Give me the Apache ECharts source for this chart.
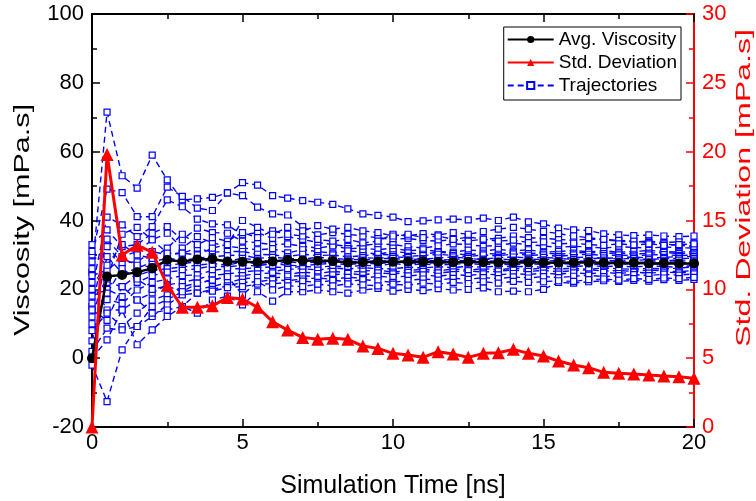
<!DOCTYPE html>
<html><head><meta charset="utf-8">
<script src="https://cdn.jsdelivr.net/npm/echarts@6/dist/echarts.min.js"></script>
<style>html,body{margin:0;padding:0;background:#fff;overflow:hidden}#c{width:756px;height:501px}</style>
</head><body><div id="c"></div>
<script>
// Simulation time [ns]
const times = [0,0.5,1,1.5,2,2.5,3,3.5,4,4.5,5,5.5,6,6.5,7,7.5,8,8.5,9,9.5,10,10.5,11,11.5,12,12.5,13,13.5,14,14.5,15,15.5,16,16.5,17,17.5,18,18.5,19,19.5,20];
// Average viscosity [mPa.s]
const avgViscosity = [0,23.7,24.2,25.0,26.1,28.5,28.1,28.7,28.8,28.1,28.0,27.9,28.1,28.5,28.4,28.3,28.2,27.8,27.9,28.1,28.0,28.0,28.1,27.9,27.9,28.0,27.9,27.8,27.8,27.9,27.8,27.7,27.8,27.8,27.7,27.6,27.7,27.5,27.6,27.5,27.5];
// Standard deviation [mPa.s] (right axis)
const stdDeviation = [0,19.8,12.5,13.2,12.7,10.3,8.7,8.7,8.8,9.4,9.3,8.7,7.65,7.04,6.51,6.37,6.44,6.37,5.88,5.71,5.35,5.23,5.06,5.47,5.30,5.06,5.35,5.40,5.64,5.35,5.16,4.79,4.50,4.31,3.97,3.90,3.85,3.78,3.70,3.65,3.54];
// Individual trajectories [mPa.s]
const traj01 = [25,71.5,53,49.4,59,51.8,46,46.3,46.7,48,51,50.3,47.2,46.5,45.8,45.3,44.7,43.4,41.9,41.5,41,39.7,39.9,40.2,40.4,40.2,40.7,40,41,39.6,39,37.8,37.3,37.1,36.1,35.8,35.6,35.8,35.5,35.3,35.5];
const traj02 = [30,49.1,48.1,41.1,41.1,49.7,47,43.6,42.9,48,47.2,43.9,41.9,41.6,38.2,35.8,36.5,36,35.5,35,34.5,34.8,34.2,34,34.5,35.2,34.6,34.8,35.5,35,34.8,34.5,34.2,34.6,34.4,34,33.8,34,33.6,33.8,33.5];
const traj03 = [20,41,38.7,35.3,38.2,46,44,40.4,39,38.7,35.8,36.5,34.8,35.3,34.5,33.6,33,32.5,32.8,33.2,33,32.4,32,32.6,33.2,33,32.5,32.8,33.4,33,32.6,32.2,32.5,32.3,32,32.4,32.2,32,32.3,32.1,32];
const traj04 = [33,37.3,32.4,33,36.3,38.2,34.4,37.8,36.5,36.3,34,33.5,33,33.2,32.5,32,32.6,31.8,32,31.5,32,31.2,31.5,31,30.8,31.4,31.2,31.6,31.2,31.5,30.8,31,31.3,30.9,31.2,30.8,31,31.3,31,30.8,31];
const traj05 = [15,34.6,29.5,31,34.4,36.3,32,35.3,33.5,32.5,32,31.5,31.8,30.6,31.5,31,30.5,31.2,30.8,30.2,31,30.6,30.2,30.8,30.4,30,30.5,30.2,30.8,30.4,30.6,30.2,30.5,30.8,30.4,30.6,30.2,30.5,30.7,30.4,30.5];
const traj06 = [28,32.4,27.7,28,31,30,30.5,32,30.8,31,31,30.2,30,29.5,30.2,29.8,30,29.4,29.8,30.2,30,29.6,29.8,30.2,29.8,29.5,30,29.7,30.3,29.9,30,29.6,30,30.2,29.8,30,29.7,30,30.1,29.8,30];
const traj07 = [10,29.5,24.8,26,28,29,28.5,29,29.5,29.8,30,29,29.3,29,28.8,29.3,29,28.7,29.2,29,29.5,29.2,28.8,29.1,29.4,29,28.8,29.2,29.4,29.1,29.3,29,29.2,29.4,29,29.2,29.4,29.1,29.3,29.5,29.5];
const traj08 = [24,25.6,29,27,26.5,27,27.5,28,28.5,28.2,29,28.5,28,28.8,28.2,28.6,28.3,28.8,28.5,28.9,29,28.6,28.9,28.4,28.7,29,28.6,28.9,28.5,28.8,28.6,29,28.7,28.9,29.1,28.8,29,28.7,28.9,29,29];
const traj09 = [5,22,20.8,24,25.5,26,26.5,27,27.5,27,28,27.5,27.2,28,27.6,28,27.8,28.2,27.9,28.4,28,28.3,28.6,28.2,28.5,28.2,28.4,28.1,28.3,28.5,28.2,28.4,28.1,28.3,28.5,28.2,28.4,28.6,28.3,28.5,28.5];
const traj10 = [18,20,17.9,22,24,25,25.5,26,26.8,26.5,27,26.8,27.5,27,26.8,27.3,27.5,27.2,27.6,27.4,28,27.7,27.5,27.8,27.6,27.9,27.7,28,27.8,28.1,27.9,27.6,27.9,28.1,27.8,28,27.7,27.9,28.1,27.8,28];
const traj11 = [12,17,15.9,19.8,22,23,24,24.2,25.5,26,26,26.3,26.5,26.2,26.7,26.4,26.8,26.5,27,26.8,27.5,27.1,27.4,27,27.3,27.5,27.2,27.4,27.1,27.4,27.2,27.5,27.3,27.1,27.4,27.2,27.5,27.3,27.5,27.4,27.5];
const traj12 = [22,14,14,16.9,19,21.3,22,23,24,24.5,25,25.5,25.2,25.8,26,25.6,26.2,25.9,26.3,26,26,26.4,26.2,26.6,26.3,26.7,26.4,26.8,26.5,26.7,26.4,26.8,26.6,26.9,26.6,26.8,26.5,26.8,26.6,26.4,27];
const traj13 = [8,13.1,9.2,13.1,16.9,18.4,20.8,21.8,22.7,23.7,24,24.5,24.8,24.3,25,24.6,25.2,24.9,25.3,25.6,25,25.5,25.8,25.4,25.9,25.6,26,25.7,26.1,25.8,26.2,25.9,26.1,25.8,26.2,26,25.8,26.1,25.9,26.2,26.5];
const traj14 = [2,8.7,8.2,9.2,15,17,19.3,20,20.8,22,23,23.5,23.2,23.8,24,23.6,24.2,24.6,24.2,24.8,24.5,24.9,25.2,24.8,25.1,25.4,25,25.3,25.6,25.2,25.5,25.1,25.4,25.7,25.3,25.5,25.2,25.6,25.4,25.1,25.5];
const traj15 = [0,5.3,14,3.9,8.2,12.1,15,18.9,20,21,22,22.2,22.8,22.5,23,23.3,22.9,23.5,23.2,23.8,23.5,23.9,24.2,23.8,24.3,24,24.5,24.2,24.6,24.3,24.7,24.4,24.8,24.5,24.9,24.6,25,24.7,25,24.8,25];
const traj16 = [-2,-12.6,2.4,9.2,12.1,15.5,18.4,18.9,19.5,20.5,20.8,21.5,21.6,22,22.4,22,22.6,22.3,22.8,22.5,22,22.6,23,22.7,23.2,22.9,23.4,23.1,23.6,23.3,23.7,23.4,23.8,24.1,23.7,24,24.3,24,24.4,24.1,24.5];
const traj17 = [14,11,20.8,16.9,13.1,14,15,13.1,16.9,18,15.5,19.3,16.6,19.3,19.3,19.8,19.3,18.9,19.8,20.3,19.5,20,19.6,20.2,19.8,20,20.4,19.3,19.5,19.3,20,22,21.8,22.2,22.5,22.3,22.6,22.4,22.8,22.6,22.9];
const traj18 = [26,18.9,26,23,20,21,19.3,21.8,22.7,23.7,18.4,22.2,19.8,21,20.8,21.5,21,21.6,21.3,21,21.5,21.2,21.8,21.5,22,21.7,22.2,21.8,22.3,22,22.2,22.5,22.3,22.8,23,22.7,23.1,22.9,23.3,23.1,23.5];
const traj19 = [31,27,33,30,29,32,36,33,35,34,36.5,35,37,36,35.5,34.5,34,34.5,33.5,34,36,35.5,36.2,35.8,36.5,36,36.8,37.5,38,37.5,36.8,36.2,35.5,35,34.5,34.2,34,33.6,33.2,32.8,32.5];
const traj20 = [16,23,36,38,34.4,30.5,30.5,30,32,33,40,38,36,38,37,38.5,37.5,38,37,36.5,35.5,36,35,35.5,34.5,34,34.6,34,34.3,33.6,33.8,33.2,33.4,33,32.8,33.2,32.9,33.2,32.8,33,33.2];
const trajectories = [traj01,traj02,traj03,traj04,traj05,traj06,traj07,traj08,traj09,traj10,traj11,traj12,traj13,traj14,traj15,traj16,traj17,traj18,traj19,traj20];

const FONT = "'Liberation Sans', Arial, sans-serif";
const pair = arr => times.map((t, i) => [t, arr[i]]);

const series = [];
trajectories.forEach(tr => {
  series.push({
    name: 'Trajectories', type: 'line', yAxisIndex: 0, data: pair(tr),
    symbol: 'rect', symbolSize: 6, showSymbol: true,
    lineStyle: { color: '#0000ff', width: 1.4, type: [6, 4] },
    itemStyle: { color: '#fff', borderColor: '#0000ff', borderWidth: 1.2 },
    emphasis: { disabled: true }, animation: false, z: 2
  });
});
series.push({
  name: 'Avg. Viscosity', type: 'line', yAxisIndex: 0, data: pair(avgViscosity),
  symbol: 'circle', symbolSize: 10,
  lineStyle: { color: '#000', width: 2.5 },
  itemStyle: { color: '#000' }, animation: false, z: 3
});
series.push({
  name: 'Std. Deviation', type: 'line', yAxisIndex: 1, data: pair(stdDeviation),
  symbol: 'triangle', symbolSize: 13,
  lineStyle: { color: '#ff0000', width: 3 },
  itemStyle: { color: '#ff0000' }, animation: false, z: 4
});

function titleText(text, x, y, size, stretch, color) {
  return {
    type: 'text', x: x, y: y, rotation: Math.PI / 2, scaleX: stretch, scaleY: 1, z: 10, silent: true,
    style: {
      text: text, fill: color, font: size + "px 'Liberation Sans', Arial, sans-serif",
      fontSize: size, fontFamily: FONT,
      textAlign: 'center', textVerticalAlign: 'middle', align: 'center', verticalAlign: 'middle'
    }
  };
}

const chart = echarts.init(document.getElementById('c'), null, { renderer: 'canvas' });
chart.setOption({
  animation: false,
  backgroundColor: '#fff',
  textStyle: { fontFamily: FONT },
  grid: { left: 92, right: 62, top: 14, bottom: 74, containLabel: false, outerBoundsMode: 'none' },
  legend: {
    data: ['Avg. Viscosity', 'Std. Deviation', 'Trajectories'],
    orient: 'vertical', right: 75, top: 27,
    borderColor: '#000', borderWidth: 1, padding: [3, 4, 5, 3],
    itemGap: 4, itemWidth: 46, itemHeight: 9,
    backgroundColor: '#fff',
    textStyle: { fontSize: 19, color: '#000', fontFamily: FONT, lineHeight: 19 }
  },
  graphic: [
    titleText('Viscosity [mPa.s]', 23, 220, 22, 1.39, '#000'),
    titleText('Std. Deviation [mPa.s]', 744, 188, 21, 1.53, '#ff0000')
  ],
  xAxis: [{
    type: 'value', min: 0, max: 20, interval: 5, position: 'bottom',
    name: 'Simulation Time [ns]', nameLocation: 'middle', nameGap: 47,
    nameTextStyle: { fontSize: 25, color: '#000', fontFamily: FONT },
    axisLine: { onZero: false, lineStyle: { color: '#000', width: 2 } },
    axisTick: { inside: true, length: 8, lineStyle: { color: '#000', width: 1.5 } },
    minorTick: { show: true, splitNumber: 2, length: 5, lineStyle: { color: '#000', width: 1.5 } },
    axisLabel: { fontSize: 22, color: '#000', margin: 5, fontFamily: FONT },
    splitLine: { show: false }
  }, {
    type: 'value', min: 0, max: 20, interval: 5, position: 'top',
    axisLine: { onZero: false, lineStyle: { color: '#000', width: 2 } },
    axisTick: { inside: true, length: 8, lineStyle: { color: '#000', width: 1.5 } },
    minorTick: { show: true, splitNumber: 2, length: 5, lineStyle: { color: '#000', width: 1.5 } },
    axisLabel: { show: false }, splitLine: { show: false }
  }],
  yAxis: [{
    type: 'value', min: -20, max: 100, interval: 20, position: 'left',
    axisLine: { show: true, onZero: false, lineStyle: { color: '#000', width: 2 } },
    axisTick: { show: true, inside: true, length: 8, lineStyle: { color: '#000', width: 1.5 } },
    minorTick: { show: true, splitNumber: 2, length: 5, lineStyle: { color: '#000', width: 1.5 } },
    axisLabel: { fontSize: 22, color: '#000', margin: 8, fontFamily: FONT },
    splitLine: { show: false }
  }, {
    type: 'value', min: 0, max: 30, interval: 5, position: 'right',
    axisLine: { show: true, onZero: false, lineStyle: { color: '#ff0000', width: 2 } },
    axisTick: { show: true, inside: true, length: 8, lineStyle: { color: '#ff0000', width: 1.5 } },
    minorTick: { show: true, splitNumber: 2, length: 5, lineStyle: { color: '#ff0000', width: 1.5 } },
    axisLabel: { fontSize: 22, color: '#ff0000', margin: 8, fontFamily: FONT },
    splitLine: { show: false }
  }],
  series: series
});
</script>
</body></html>
